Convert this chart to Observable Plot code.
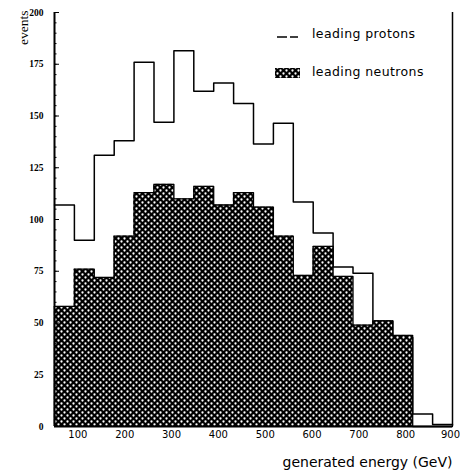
<!DOCTYPE html>
<html><head><meta charset="utf-8">
<script src="https://cdn.jsdelivr.net/npm/d3@7"></script>
<script src="https://cdn.jsdelivr.net/npm/@observablehq/plot@0.6"></script>
<style>
html,body{margin:0;padding:0;background:#fff;}
#chart{width:460px;height:476px;position:relative;}
</style></head><body><div id="chart"></div>
<script>
// bin edges (GeV), 20 bins from 50 to 900
const binEdges = [50, 92.5, 135, 177.5, 220, 262.5, 305, 347.5, 390, 432.5, 475, 517.5, 560, 602.5, 645, 687.5, 730, 772.5, 815, 857.5, 900];
// events per bin
const neutrons = [58, 76, 72, 92, 113, 117, 110, 116, 107, 113, 106, 92, 73, 87, 72.5, 49, 51, 44, 0, 0];
const protons  = [107, 90, 131, 138, 176, 147, 181.5, 162, 166, 156, 136.5, 146.5, 108.5, 93.5, 77, 74, 51, 43, 6, 1];
const yTicks = [0, 25, 50, 75, 100, 125, 150, 175, 200];
const yMinorTicks = d3.range(0, 201, 5);
const xTicks = [100, 200, 300, 400, 500, 600, 700, 800];
const xLastTick = [900];
const seriesNames = ["leading protons", "leading neutrons"];
const xLabel = "generated energy (GeV)";
const yLabel = "events";

const bins = neutrons.map((v, i) => ({x1: binEdges[i], x2: binEdges[i + 1], neutrons: v, protons: protons[i]}));
const stepOf = (vals) => vals.map((v, i) => ({x: binEdges[i], y: v}))
  .concat([{x: binEdges[binEdges.length - 1], y: vals[vals.length - 1]}]);
const protonSteps = stepOf(protons);
const neutronSteps = stepOf(neutrons);

const plot = Plot.plot({
  width: 460, height: 476,
  marginLeft: 54, marginRight: 8, marginTop: 12, marginBottom: 50,
  style: {fontFamily: "DejaVu Sans", background: "white", color: "black"},
  x: {domain: [50, 900]},
  y: {domain: [0, 200]},
  marks: [
    Plot.line(protonSteps, {x: "x", y: "y", curve: "step-after", stroke: "black", strokeWidth: 1.5}),
    Plot.rectY(bins.filter(d => d.neutrons > 0), {x1: "x1", x2: "x2", y: "neutrons", fill: "url(#xhatch)", insetLeft: -0.3, insetRight: -0.3}),
    Plot.line(neutronSteps, {x: "x", y: "y", curve: "step-after", stroke: "black", strokeWidth: 1.3}),
    Plot.ruleX([50], {stroke: "black", strokeWidth: 2}),
    Plot.ruleX([900], {stroke: "black", strokeWidth: 1.5}),
    Plot.ruleY([0], {stroke: "black", strokeWidth: 2}),
    Plot.axisY({ticks: yMinorTicks, tickSize: -2.5, tickFormat: () => "", label: null}),
    Plot.axisY({ticks: yTicks, tickSize: -5, tickPadding: 16, fontSize: 9.5, fontWeight: "bold", fontFamily: "Liberation Sans Narrow", label: null}),
    Plot.axisX({ticks: xTicks, tickSize: 0, tickPadding: 4, fontSize: 10, label: null}),
    Plot.axisX({ticks: xLastTick, tickSize: 0, tickPadding: 4, fontSize: 10, dx: -2, label: null}),
    Plot.text([xLabel], {frameAnchor: "bottom-right", dy: 40, textAnchor: "end", fontSize: 14}),
    Plot.text([yLabel], {frameAnchor: "top-left", rotate: -90, textAnchor: "end", dx: -36, dy: -2, fontSize: 13.5, fontFamily: "Liberation Sans Narrow"})
  ]
});

const svg = d3.select(plot);
const defs = svg.insert("defs", ":first-child");
const pat = defs.append("pattern").attr("id", "xhatch").attr("patternUnits", "userSpaceOnUse").attr("width", 6).attr("height", 6);
pat.append("rect").attr("width", 6).attr("height", 6).attr("fill", "black");
pat.append("circle").attr("cx", 1.5).attr("cy", 1.5).attr("r", 1.15).attr("fill", "white");
pat.append("circle").attr("cx", 4.5).attr("cy", 4.5).attr("r", 1.15).attr("fill", "white");

// legend
const lg = svg.append("g").attr("font-family", "DejaVu Sans").style("font-size", "12.5px")
  .style("letter-spacing", "0.4px").attr("text-anchor", "start");
lg.append("line").attr("x1", 277).attr("x2", 287).attr("y1", 37).attr("y2", 37).attr("stroke", "black").attr("stroke-width", 1.5);
lg.append("line").attr("x1", 290).attr("x2", 298).attr("y1", 37).attr("y2", 37).attr("stroke", "black").attr("stroke-width", 1.5);
lg.append("rect").attr("x", 275).attr("y", 68).attr("width", 25).attr("height", 10).attr("fill", "url(#xhatch)");
lg.append("text").attr("x", 312).attr("y", 38).style("text-anchor", "start").text(seriesNames[0]);
lg.append("text").attr("x", 312).attr("y", 76).style("text-anchor", "start").text(seriesNames[1]);

document.getElementById("chart").appendChild(plot);
</script>
</body></html>
